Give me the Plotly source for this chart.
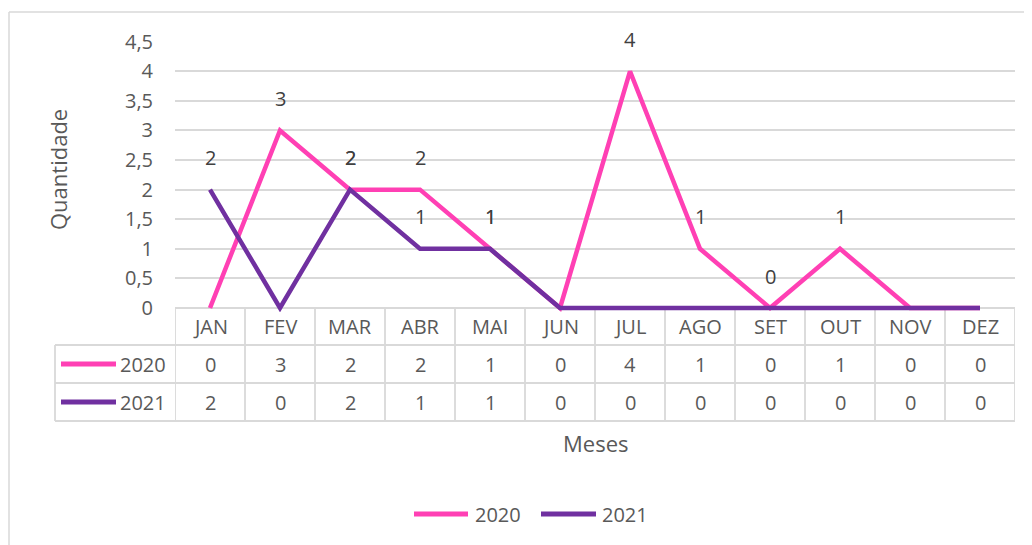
import plotly.graph_objects as go

W, H = 1032, 545
OFF = 8  # the page body adds an 8px margin around the figure

MONTHS = ["JAN", "FEV", "MAR", "ABR", "MAI", "JUN", "JUL", "AGO", "SET", "OUT", "NOV", "DEZ"]
SERIES_NAMES = ["2020", "2021"]
VALUES_2020 = [0, 3, 2, 2, 1, 0, 4, 1, 0, 1, 0, 0]
VALUES_2021 = [2, 0, 2, 1, 1, 0, 0, 0, 0, 0, 0, 0]
# which data labels are visible on the chart
LABELS_2020 = [False, True, True, True, True, False, True, True, True, True, False, False]
LABELS_2021 = [True, False, True, True, True, False, False, False, False, False, False, False]
Y_TICKS = [0, 0.5, 1, 1.5, 2, 2.5, 3, 3.5, 4, 4.5]

COLORS = ["#FF40B4", "#7030A0"]
TXT = "#595959"
GRID = "#D9D9D9"
FONT = "'Open Sans', 'Noto Sans', sans-serif"

# pixel layout (Excel-like), in screenshot coordinates
PLOT_L, PLOT_R = 175, 1015
PLOT_T, PLOT_B = 41.7, 308
PAD_B = 4  # extra room under zero so the line at 0 is not clipped
TABLE_L = 55
ROW_EDGES = [308, 345, 383, 421]
Y_MAX = 4.5
Y_MIN = -PAD_B * Y_MAX / (PLOT_B - PLOT_T)


def px(x):
    return (x - OFF) / W


def py(y):
    return 1 - (y - OFF) / H


def fmt(v):
    return str(v).replace(".", ",")


fig = go.Figure()
for name, vals, color in zip(SERIES_NAMES, [VALUES_2020, VALUES_2021], COLORS):
    fig.add_trace(
        go.Scatter(
            x=MONTHS,
            y=vals,
            name=name,
            mode="lines",
            line=dict(color=color, width=4.5),
            hoverinfo="skip",
        )
    )

annotations = []


def label(x, y, text, size=20, xref="paper", yref="paper", color=TXT, **kw):
    d = dict(x=x, y=y, xref=xref, yref=yref, text=text, showarrow=False,
             xanchor="center", yanchor="middle", font=dict(size=size, color=color, family=FONT))
    d.update(kw)
    annotations.append(d)


# data labels above points
for vals, show in [(VALUES_2020, LABELS_2020), (VALUES_2021, LABELS_2021)]:
    for m, v, s in zip(MONTHS, vals, show):
        if s:
            label(m, v, str(v), xref="x", yref="y", yshift=32, color="#404040")

# data table: header row and value rows
row_centers = [(ROW_EDGES[i] + ROW_EDGES[i + 1]) / 2 for i in range(3)]
for m in MONTHS:
    label(m, py(row_centers[0]), m, xref="x")
for r, vals in enumerate([VALUES_2020, VALUES_2021]):
    for m, v in zip(MONTHS, vals):
        label(m, py(row_centers[r + 1]), str(v), xref="x")
    label(px(168), py(row_centers[r + 1]), SERIES_NAMES[r], xanchor="right")

label(px(58), py(170), "Quantidade", size=22, textangle=-90)
label(px((PLOT_L + PLOT_R) / 2), py(443), "Meses", size=22)

# bottom legend
LEG_Y = 514
LEG_POS = [(414, 468, 473), (541, 596, 600)]
for (x0, x1, tx), name in zip(LEG_POS, SERIES_NAMES):
    label(px(tx), py(LEG_Y), name, xanchor="left")

shapes = []
tl = dict(color=GRID, width=1.8)
# table horizontal lines
shapes.append(dict(type="line", xref="paper", yref="paper", x0=px(PLOT_L), x1=px(PLOT_R),
                   y0=py(ROW_EDGES[0]), y1=py(ROW_EDGES[0]), line=tl, layer="below"))
for yy in ROW_EDGES[1:]:
    shapes.append(dict(type="line", xref="paper", yref="paper", x0=px(TABLE_L), x1=px(PLOT_R),
                       y0=py(yy), y1=py(yy), line=tl))
# table vertical lines
for i in range(len(MONTHS) + 1):
    shapes.append(dict(type="line", xref="x", yref="paper", x0=i - 0.5, x1=i - 0.5,
                       y0=py(ROW_EDGES[0]), y1=py(ROW_EDGES[-1]), line=tl, layer="below"))
shapes.append(dict(type="line", xref="paper", yref="paper", x0=px(TABLE_L), x1=px(TABLE_L),
                   y0=py(ROW_EDGES[1]), y1=py(ROW_EDGES[-1]), line=tl))
# legend keys in table
for r, color in enumerate(COLORS):
    yy = py(row_centers[r + 1])
    shapes.append(dict(type="line", xref="paper", yref="paper", x0=px(61), x1=px(116),
                       y0=yy, y1=yy, line=dict(color=color, width=5)))
# bottom legend keys
for (x0, x1, tx), color in zip(LEG_POS, COLORS):
    shapes.append(dict(type="line", xref="paper", yref="paper", x0=px(x0), x1=px(x1),
                       y0=py(LEG_Y), y1=py(LEG_Y), line=dict(color=color, width=5)))
# chart border
shapes.append(dict(type="line", xref="paper", yref="paper", x0=px(9), x1=1, y0=py(12), y1=py(12),
                   line=dict(color=GRID, width=1.5)))
shapes.append(dict(type="line", xref="paper", yref="paper", x0=px(9), x1=px(9), y0=py(12), y1=0,
                   line=dict(color=GRID, width=1.5)))

fig.update_layout(
    width=W,
    height=H,
    margin=dict(l=0, r=0, t=0, b=0, autoexpand=False),
    paper_bgcolor="white",
    plot_bgcolor="white",
    font=dict(family=FONT, color=TXT, size=20),
    showlegend=False,
    xaxis=dict(domain=[px(PLOT_L), px(PLOT_R)], range=[-0.5, len(MONTHS) - 0.5],
               showticklabels=False, showgrid=False, zeroline=False, ticks=""),
    yaxis=dict(domain=[py(PLOT_B + PAD_B), py(PLOT_T)], range=[Y_MIN, Y_MAX], tickvals=Y_TICKS,
               ticktext=[fmt(t) for t in Y_TICKS], gridcolor=GRID, gridwidth=1.5,
               zeroline=False, ticks="", ticklabelstandoff=21,
               tickfont=dict(size=20, color=TXT)),
    annotations=annotations,
    shapes=shapes,
)

fig.write_html("out.html")
